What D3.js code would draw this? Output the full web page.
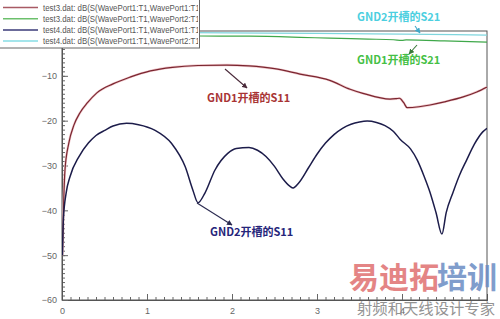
<!DOCTYPE html>
<html>
<head>
<meta charset="utf-8">
<script src="https://cdn.jsdelivr.net/npm/d3@7"></script>
<style>
  body { margin: 0; background: #fff; }
  svg { display: block; }
</style>
</head>
<body>
<svg width="500" height="319"></svg>
<script>
// frequency (GHz) and dB values
var s11_gnd1 = [[0.005,-50],[0.02,-38],[0.035,-31],[0.08,-25],[0.14,-21],[0.21,-18.3],[0.3,-16],[0.41,-13.8],
  [0.6,-11.8],[0.8,-10.3],[1.04,-8.9],[1.3,-8.1],[1.6,-7.7],[1.94,-7.6],[2.2,-7.8],[2.5,-8.4],[2.8,-9.6],
  [3.15,-11],[3.39,-13],[3.54,-13.9],[3.86,-15.2],[3.93,-15.1],[3.97,-15],[4.02,-16],[4.06,-17.1],[4.2,-16.9],
  [4.33,-16.5],[4.5,-15.8],[4.72,-14.7],[4.88,-13.6],[5.0,-12.5]];
var s11_gnd2 = [[0.005,-50],[0.016,-42],[0.05,-36],[0.094,-32.5],[0.2,-28],[0.31,-25],[0.4,-23.3],[0.51,-22.1],
  [0.6,-21.2],[0.76,-20.6],[0.9,-20.9],[1.09,-22.1],[1.29,-25.1],[1.45,-30.3],[1.54,-35.5],[1.6,-38.3],
  [1.68,-36.2],[1.8,-31],[1.95,-27.3],[2.05,-26.2],[2.2,-26],[2.3,-26.6],[2.4,-28],[2.5,-30.2],[2.6,-33],
  [2.68,-34.6],[2.72,-35],[2.78,-34],[2.9,-30.5],[3.0,-27.5],[3.1,-25],[3.2,-23.1],[3.3,-21.7],[3.4,-20.8],
  [3.5,-20.3],[3.59,-20.1],[3.7,-20.4],[3.8,-21.1],[3.9,-22.4],[3.98,-24.2],[4.1,-26.3],[4.18,-28.8],
  [4.26,-32.4],[4.33,-36],[4.4,-40.5],[4.47,-45.3],[4.52,-40.5],[4.6,-36],[4.68,-32],[4.76,-28.8],
  [4.85,-25.3],[4.95,-22.5],[5.0,-21.7]];
var s21_gnd1 = [[0,-0.05],[0.5,-0.4],[1.0,-0.8],[1.5,-1.1],[2.2,-1.15],[2.8,-1.4],[3.15,-1.6],[3.6,-1.8],
  [3.9,-1.95],[4.0,-2.1],[4.05,-2.0],[4.5,-2.2],[5.0,-2.5]];
var s21_gnd2 = [[0,-0.02],[1.5,-0.35],[3.0,-0.55],[4.0,-0.7],[5.0,-0.9]];

var legendNames = [
  "test3.dat: dB(S(WavePort1:T1,WavePort1:T1))",
  "test3.dat: dB(S(WavePort1:T1,WavePort2:T1))",
  "test4.dat: dB(S(WavePort1:T1,WavePort1:T1))",
  "test4.dat: dB(S(WavePort1:T1,WavePort2:T1))"
];
var legendColors = ["#a85a64", "#6cc06c", "#3a3a78", "#86dce4"];
var xMajor = [0, 1, 2, 3, 4];
var yMajor = [-60, -50, -40, -30, -20, -10];

var svg = d3.select("svg");
var defs = svg.append("defs");
var x = d3.scaleLinear().domain([0, 5]).range([62, 487]);
var y = d3.scaleLinear().domain([-60, 0]).range([300, 31]);

defs.append("clipPath").attr("id", "plot")
  .append("rect").attr("x", 62).attr("y", 31).attr("width", 425).attr("height", 269);
defs.append("clipPath").attr("id", "legclip")
  .append("rect").attr("x", 0).attr("y", 0).attr("width", 198).attr("height", 48);

// frame
svg.append("rect").attr("x", 62).attr("y", 31).attr("width", 425).attr("height", 269)
  .attr("fill", "none").attr("stroke", "#555").attr("stroke-width", 1);

// x axis with inward ticks
var gx = svg.append("g").attr("transform", "translate(0,300)");
gx.call(d3.axisBottom(x).tickValues(d3.range(0, 50).map(function(i){ return i / 10; }))
  .tickSize(-3).tickFormat(""));
gx.append("g").call(d3.axisBottom(x).tickValues(xMajor).tickSize(-6).tickPadding(8).tickFormat(d3.format("d")));
// y axis with inward ticks
var gy = svg.append("g").attr("transform", "translate(62,0)");
gy.call(d3.axisLeft(y).tickValues(d3.range(-60, 1, 1)).tickSize(-3).tickFormat(""));
gy.append("g").call(d3.axisLeft(y).tickValues(yMajor).tickSize(-6).tickPadding(5));
svg.selectAll(".domain").attr("stroke", "#555");
svg.selectAll(".tick line").attr("stroke", "#666");
svg.selectAll(".tick text").attr("fill", "#666").style("font-family", "Liberation Sans, Arial")
  .style("font-size", "9px");

// curves
var line = d3.line().x(function(d){ return x(d[0]); }).y(function(d){ return y(d[1]); })
  .curve(d3.curveMonotoneX);
var curves = svg.append("g").attr("clip-path", "url(#plot)").attr("fill", "none");
curves.append("path").datum(s21_gnd2).attr("d", line).attr("stroke", "#7fd6de").attr("stroke-width", 1.3);
curves.append("path").datum(s21_gnd1).attr("d", line).attr("stroke", "#3fa84a").attr("stroke-width", 1.2);
curves.append("path").datum(s11_gnd1).attr("d", line).attr("stroke", "#f0c8cc").attr("stroke-width", 2.4);
curves.append("path").datum(s11_gnd1).attr("d", line).attr("stroke", "#7a2630").attr("stroke-width", 1.2);
curves.append("path").datum(s11_gnd2).attr("d", line).attr("stroke", "#1c1c4a").attr("stroke-width", 1.5);

// legend
var lg = svg.append("g");
lg.append("rect").attr("x", -1).attr("y", -1).attr("width", 200.5).attr("height", 49)
  .attr("fill", "#fff").attr("stroke", "#666");
var lgt = lg.append("g").attr("clip-path", "url(#legclip)");
legendNames.forEach(function(n, i){
  var yy = 7.5 + i * 11.2;
  lgt.append("line").attr("x1", 3).attr("x2", 38).attr("y1", yy).attr("y2", yy)
    .attr("stroke", legendColors[i]).attr("stroke-width", 1.5);
  lgt.append("text").attr("x", 43).attr("y", yy + 3).text(n)
    .attr("textLength", 162).attr("lengthAdjust", "spacingAndGlyphs")
    .style("font-family", "Liberation Sans, Arial").style("font-size", "8.5px").attr("fill", "#555");
});

// annotations
function arrowHead(id, c) {
  defs.append("marker").attr("id", id).attr("viewBox", "0 0 10 10").attr("refX", 9).attr("refY", 5)
    .attr("markerWidth", 5).attr("markerHeight", 5).attr("orient", "auto")
    .append("path").attr("d", "M0,0L10,5L0,10z").attr("fill", c);
}
var notes = [
  {t: "GND2开槽的S21", c: "#4ccfe0", tx: 357, ty: 21, a: [415, 26, 420, 33], ac: "#40a8c8"},
  {t: "GND1开槽的S21", c: "#45c045", tx: 357, ty: 64, a: [417, 45, 409, 54], ac: "#3a7a3a"},
  {t: "GND1开槽的S11", c: "#a83434", tx: 207, ty: 102, a: [225, 69, 247, 88], ac: "#4a2a3a"},
  {t: "GND2开槽的S11", c: "#25257a", tx: 210, ty: 236, a: [197, 203, 232, 225], ac: "#2a2a50"}
];
notes.forEach(function(n, i){
  arrowHead("ah" + i, n.ac);
  svg.append("line").attr("x1", n.a[0]).attr("y1", n.a[1]).attr("x2", n.a[2]).attr("y2", n.a[3])
    .attr("stroke", n.ac).attr("stroke-width", 1.1).attr("marker-end", "url(#ah" + i + ")");
  svg.append("text").attr("x", n.tx).attr("y", n.ty).text(n.t).attr("fill", n.c)
    .style("font-family", "Noto Sans CJK SC").style("font-weight", "bold").style("font-size", "11px");
});

// watermark
var wm = svg.append("g").style("font-family", "Noto Sans CJK SC");
wm.append("text").attr("x", 349).attr("y", 288).style("font-size", "30px").style("font-weight", "bold")
  .attr("fill", "#e07070").attr("opacity", 0.85).text("易迪拓");
wm.append("text").attr("x", 437).attr("y", 288).style("font-size", "30px").style("font-weight", "bold")
  .attr("fill", "#6a8cc4").attr("opacity", 0.85).text("培训");
wm.append("text").attr("x", 357).attr("y", 314).attr("textLength", 138).attr("lengthAdjust", "spacingAndGlyphs")
  .style("font-size", "15px").attr("fill", "#888").attr("opacity", 0.9).text("射频和天线设计专家");
</script>
</body>
</html>
